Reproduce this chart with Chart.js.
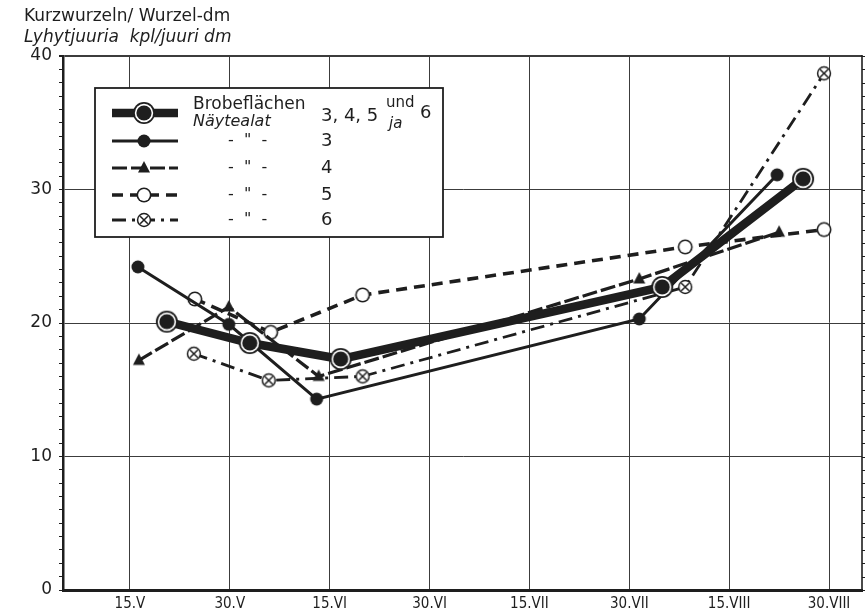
<!DOCTYPE html>
<html>
<head>
<meta charset="utf-8">
<script src="https://cdn.jsdelivr.net/npm/chart.js@4.4.1/dist/chart.umd.min.js"></script>
<style>
    html, body { margin: 0; padding: 0; background: #fff; }
    #wrap { position: relative; width: 865px; height: 612px; }
</style>
</head>
<body>
<div id="wrap"><canvas id="rootChart" width="865" height="612"></canvas></div>
<script>
'use strict';

const INK = '#1e1e1e';
const GRID = '#3c3c3c';
const FONT = "'DejaVu Sans', sans-serif";

// ── Data ──────────────────────────────────────────────────────────────────────

// x axis runs in half-month steps, index 0 = 15.V
const dateLabels = ['15.V', '30.V', '15.VI', '30.VI', '15.VII', '30.VII', '15.VIII', '30.VIII'];

// plots 3, 4, 5 and 6 together
const allX = [0.37, 1.20, 2.11, 5.33, 6.74];
const allY = [20.1, 18.5, 17.3, 22.7, 30.8];

const plot3X = [0.08, 0.99, 1.87, 5.10, 6.48];
const plot3Y = [24.2, 19.9, 14.3, 20.3, 31.1];

const plot4X = [0.09, 0.99, 1.89, 5.10, 6.50];
const plot4Y = [17.2, 21.2, 16.0, 23.3, 26.8];

const plot5X = [0.65, 1.41, 2.33, 5.56, 6.95];
const plot5Y = [21.8, 19.3, 22.1, 25.7, 27.0];

const plot6X = [0.64, 1.39, 2.33, 5.56, 6.95];
const plot6Y = [17.7, 15.7, 16.0, 22.7, 38.7];

const plotNames = ['3, 4, 5', '3', '4', '5', '6'];

// ── Markers ───────────────────────────────────────────────────────────────────

function makeMarker(draw) {
    const c = document.createElement('canvas');
    c.width = 26;
    c.height = 26;
    draw(c.getContext('2d'), 13);
    return c;
}

function disc(g, m, r, fill) {
    g.fillStyle = fill;
    g.beginPath();
    g.arc(m, m, r, 0, Math.PI * 2);
    g.fill();
}

const ringMarker = makeMarker((g, m) => {
    disc(g, m, 11, INK);
    disc(g, m, 9.2, '#fff');
    disc(g, m, 7.6, INK);
});

const dotMarker = makeMarker((g, m) => disc(g, m, 6.5, INK));

const triMarker = makeMarker((g, m) => {
    g.fillStyle = INK;
    g.beginPath();
    g.moveTo(m, m - 7);
    g.lineTo(m + 6, m + 4.5);
    g.lineTo(m - 6, m + 4.5);
    g.closePath();
    g.fill();
});

const openMarker = makeMarker((g, m) => {
    disc(g, m, 7.5, INK);
    disc(g, m, 5.9, '#fff');
});

const crossMarker = makeMarker((g, m) => {
    disc(g, m, 7.2, INK);
    disc(g, m, 5.7, '#fff');
    g.strokeStyle = INK;
    g.lineWidth = 1.5;
    const d = 3.8;
    g.beginPath();
    g.moveTo(m - d, m - d); g.lineTo(m + d, m + d);
    g.moveTo(m + d, m - d); g.lineTo(m - d, m + d);
    g.stroke();
});

// ── Datasets ──────────────────────────────────────────────────────────────────

function points(xs, ys) {
    return xs.map((x, i) => ({ x, y: ys[i] }));
}

const seriesStyles = [
    { width: 8.5, dash: [], marker: ringMarker },
    { width: 3, dash: [], marker: dotMarker },
    { width: 3.2, dash: [15, 4], marker: triMarker },
    { width: 3.6, dash: [11, 7], marker: openMarker },
    { width: 2.8, dash: [14, 6, 3, 6], marker: crossMarker },
];

const seriesData = [
    points(allX, allY),
    points(plot3X, plot3Y),
    points(plot4X, plot4Y),
    points(plot5X, plot5Y),
    points(plot6X, plot6Y),
];

const datasets = seriesData.map((data, i) => ({
    label: plotNames[i],
    data,
    borderColor: INK,
    borderWidth: seriesStyles[i].width,
    borderDash: seriesStyles[i].dash,
    borderCapStyle: 'butt',
    pointStyle: seriesStyles[i].marker,
    pointRadius: 6,
    tension: 0,
    fill: false,
    clip: 12,
}));

// ── Right frame, legend box and headings ──────────────────────────────────────

const headingPlugin = {
    id: 'headings',
    afterDraw(chart) {
        const ctx = chart.ctx;
        const area = chart.chartArea;
        const yScale = chart.scales.y;
        ctx.save();

        // right frame edge with its small ticks
        ctx.strokeStyle = INK;
        ctx.lineWidth = 1.6;
        ctx.beginPath();
        ctx.moveTo(area.right, area.top - 1);
        ctx.lineTo(area.right, area.bottom);
        ctx.stroke();
        ctx.lineWidth = 1;
        ctx.beginPath();
        yScale.ticks.forEach(t => {
            const py = Math.round(yScale.getPixelForValue(t.value)) + 0.5;
            ctx.moveTo(area.right, py);
            ctx.lineTo(area.right + 3, py);
        });
        ctx.stroke();

        ctx.fillStyle = INK;
        ctx.textBaseline = 'middle';
        ctx.textAlign = 'left';
        ctx.font = '17px ' + FONT;
        ctx.fillText('Kurzwurzeln/ Wurzel-dm', 24, 17);
        ctx.font = 'italic 17px ' + FONT;
        ctx.fillText('Lyhytjuuria  kpl/juuri dm', 24, 38);

        // legend frame
        ctx.fillStyle = '#fff';
        ctx.fillRect(95, 88, 348, 149);
        ctx.strokeStyle = INK;
        ctx.lineWidth = 1.8;
        ctx.strokeRect(95, 88, 348, 149);

        const rowY = [113, 141, 168, 195, 220];
        seriesStyles.forEach((st, i) => {
            ctx.strokeStyle = INK;
            ctx.lineWidth = st.width;
            ctx.setLineDash(st.dash);
            ctx.beginPath();
            ctx.moveTo(112, rowY[i]);
            ctx.lineTo(178, rowY[i]);
            ctx.stroke();
            ctx.setLineDash([]);
            ctx.drawImage(st.marker, 144 - 13, rowY[i] - 13);
        });

        ctx.fillStyle = INK;
        ctx.font = '17px ' + FONT;
        ctx.fillText('Brobeflächen', 193, 105);
        ctx.font = 'italic 16px ' + FONT;
        ctx.fillText('Näytealat', 193, 122);
        ctx.font = '18px ' + FONT;
        ctx.fillText(plotNames[0], 321, 116);
        ctx.fillText('6', 420, 113);
        ctx.font = '15px ' + FONT;
        ctx.fillText('und', 386, 103);
        ctx.font = 'italic 15px ' + FONT;
        ctx.fillText('ja', 389, 124);

        for (let i = 1; i < rowY.length; i++) {
            ctx.font = '16px ' + FONT;
            ctx.fillText('-  "  -', 228, rowY[i]);
            ctx.font = '18px ' + FONT;
            ctx.fillText(plotNames[i], 321, rowY[i]);
        }
        ctx.restore();
    },
};

// ── Chart ─────────────────────────────────────────────────────────────────────

const ctx = document.getElementById('rootChart').getContext('2d');
new Chart(ctx, {
    type: 'line',
    data: { datasets },
    plugins: [headingPlugin],
    options: {
        responsive: false,
        animation: false,
        layout: { autoPadding: false, padding: { top: 56, right: 3 } },
        plugins: {
            legend: { display: false },
            tooltip: { enabled: false },
        },
        scales: {
            x: {
                type: 'linear',
                min: -0.67,
                max: 7.33,
                afterBuildTicks(scale) {
                    scale.ticks = dateLabels.map((_, i) => ({ value: i }));
                },
                afterFit(scale) {
                    scale.height = 22;
                    scale.paddingLeft = 0;
                    scale.paddingRight = 0;
                },
                ticks: {
                    autoSkip: false,
                    maxRotation: 0,
                    padding: 5,
                    color: INK,
                    font: { family: "'DejaVu Sans Condensed', 'DejaVu Sans', sans-serif", size: 15 },
                    callback: v => dateLabels[v] ?? '',
                },
                grid: { color: GRID, lineWidth: 1, drawTicks: false },
                border: { color: INK, width: 3 },
            },
            y: {
                position: 'left',
                min: 0,
                max: 40,
                afterFit(scale) { scale.width = 63; },
                ticks: {
                    stepSize: 1,
                    autoSkip: false,
                    maxTicksLimit: 100,
                    padding: 7,
                    color: INK,
                    font: { family: FONT, size: 17 },
                    callback: v => (v % 10 === 0 ? String(v) : ''),
                },
                grid: {
                    color: c => (c.tick.value % 10 === 0 ? GRID : 'rgba(0,0,0,0)'),
                    lineWidth: c => (c.tick.value === 40 ? 2 : 1),
                    tickColor: INK,
                    tickLength: 4,
                },
                border: { color: INK, width: 2.5 },
            },
        },
    },
});
</script>
</body>
</html>
